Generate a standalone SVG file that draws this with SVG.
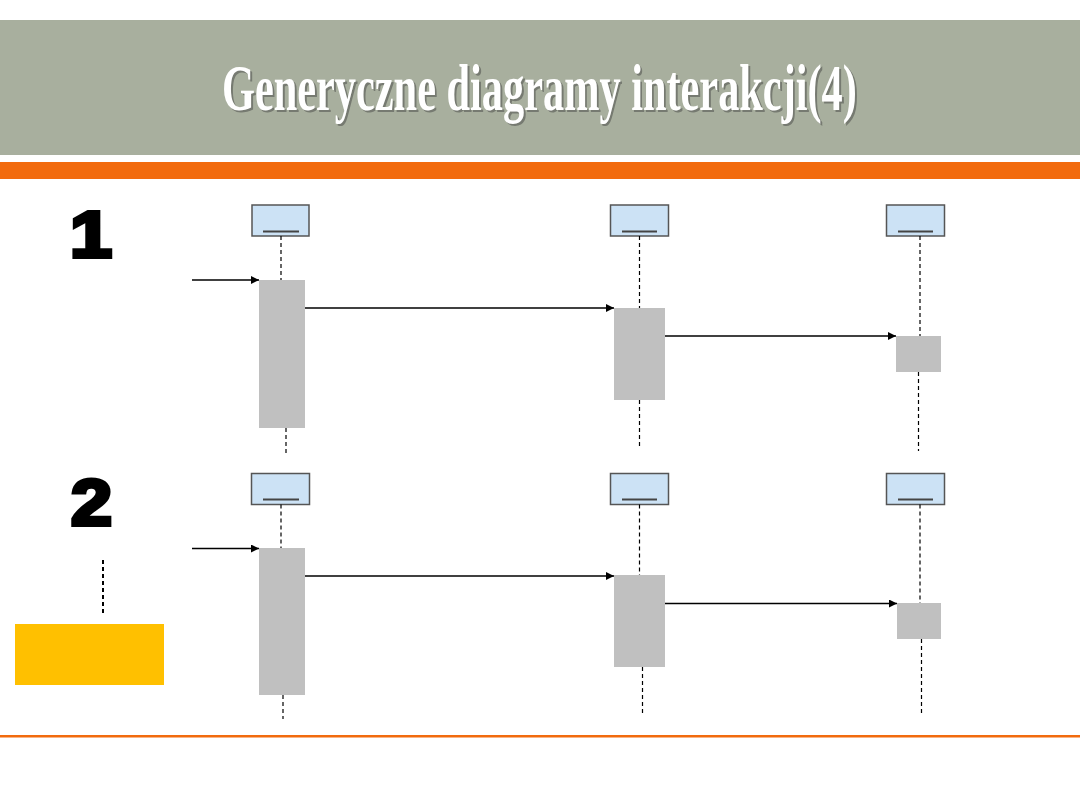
<svg xmlns="http://www.w3.org/2000/svg" width="1080" height="810" viewBox="0 0 1080 810">
  <style>
    .obj { fill: #CCE2F5; stroke: #555; stroke-width: 1.5; }
    .uline { stroke: #444; stroke-width: 2; }
    .life { stroke: #000; stroke-width: 1.2; stroke-dasharray: 4 3; fill: none; }
    .act { fill: #C0C0C0; stroke: none; }
    .msg { stroke: #000; stroke-width: 1.5; fill: none; marker-end: url(#arrow); }
    .num { font-family: "Liberation Sans", Arial, sans-serif; font-weight: bold; font-size: 64px; fill: #000; stroke: #000; stroke-width: 4; stroke-linejoin: miter; }
    .title { font-family: "Liberation Serif", "Times New Roman", serif; font-weight: bold; font-size: 66px; }
  </style>
  <defs>
    <marker id="arrow" viewBox="0 0 10 10" refX="10" refY="5" markerWidth="10" markerHeight="8" markerUnits="userSpaceOnUse" orient="auto">
      <path d="M0,0 L10,5 L0,10 z" fill="#000"/>
    </marker>
  </defs>

  <rect width="1080" height="810" fill="#fff"/>

  <!-- header -->
  <g id="header">
    <rect x="0" y="20" width="1080" height="135" fill="#A8AF9E"/>
    <rect x="0" y="162" width="1080" height="17" fill="#F26B0E"/>
    <g transform="translate(222,0) scale(0.64,1)">
      <text class="title" x="3" y="112" textLength="992" lengthAdjust="spacingAndGlyphs" fill="#3a3a3a" fill-opacity="0.45">Generyczne diagramy interakcji(4)</text>
      <text class="title" x="0" y="110" textLength="992" lengthAdjust="spacingAndGlyphs" fill="#fff">Generyczne diagramy interakcji(4)</text>
    </g>
  </g>

  <!-- section labels -->
  <g id="label-1"><text class="num" x="70" y="257" textLength="42" lengthAdjust="spacingAndGlyphs">1</text></g>
  <g id="label-2"><text class="num" x="71" y="525" textLength="41" lengthAdjust="spacingAndGlyphs">2</text></g>

  <!-- section 1 nodes -->
  <g id="s1-obj1">
    <rect class="obj" x="252" y="205" width="57" height="31"/>
    <line class="uline" x1="263" y1="231.5" x2="299" y2="231.5"/>
    <rect class="act" x="259" y="280" width="46" height="148"/>
  </g>
  <g id="s1-obj2">
    <rect class="obj" x="610.5" y="205" width="58" height="31"/>
    <line class="uline" x1="622" y1="231.5" x2="657" y2="231.5"/>
    <rect class="act" x="614" y="308" width="51" height="92"/>
  </g>
  <g id="s1-obj3">
    <rect class="obj" x="886.5" y="205" width="58" height="31"/>
    <line class="uline" x1="898" y1="231.5" x2="933" y2="231.5"/>
    <rect class="act" x="896" y="336" width="45" height="36"/>
  </g>

  <!-- section 2 nodes -->
  <g id="s2-obj1">
    <rect class="obj" x="251.5" y="473.5" width="58" height="31"/>
    <line class="uline" x1="263" y1="499.5" x2="299" y2="499.5"/>
    <rect class="act" x="259" y="548" width="46" height="147"/>
  </g>
  <g id="s2-obj2">
    <rect class="obj" x="610.5" y="473.5" width="58" height="31"/>
    <line class="uline" x1="622" y1="499.5" x2="657" y2="499.5"/>
    <rect class="act" x="614" y="575" width="51" height="92"/>
  </g>
  <g id="s2-obj3">
    <rect class="obj" x="886.5" y="473.5" width="58" height="31"/>
    <line class="uline" x1="898" y1="499.5" x2="933" y2="499.5"/>
    <rect class="act" x="897" y="603" width="44" height="36"/>
  </g>

  <g id="yellow-note">
    <rect x="15" y="624" width="149" height="61" fill="#FFC000"/>
  </g>

  <!-- connectors -->
  <g id="connectors">
    <line class="life" x1="281" y1="236" x2="281" y2="280"/>
    <line class="life" x1="286" y1="428" x2="286" y2="454"/>
    <line class="life" x1="639.5" y1="236" x2="639.5" y2="308"/>
    <line class="life" x1="639.5" y1="400" x2="639.5" y2="449"/>
    <line class="life" x1="920" y1="236" x2="920" y2="336"/>
    <line class="life" x1="918.5" y1="372" x2="918.5" y2="451"/>
    <line class="life" x1="281" y1="504.5" x2="281" y2="548"/>
    <line class="life" x1="283" y1="695" x2="283" y2="719"/>
    <line class="life" x1="639.5" y1="504.5" x2="639.5" y2="575"/>
    <line class="life" x1="642.5" y1="667" x2="642.5" y2="714"/>
    <line class="life" x1="920" y1="504.5" x2="920" y2="603"/>
    <line class="life" x1="921.5" y1="639" x2="921.5" y2="716"/>
    <line class="msg" x1="192" y1="280" x2="259" y2="280"/>
    <line class="msg" x1="305" y1="308" x2="614" y2="308"/>
    <line class="msg" x1="665" y1="336" x2="896" y2="336"/>
    <line class="msg" x1="192" y1="548.5" x2="259" y2="548.5"/>
    <line class="msg" x1="305" y1="576" x2="614" y2="576"/>
    <line class="msg" x1="665" y1="603.5" x2="897" y2="603.5"/>
    <line x1="103" y1="560" x2="103" y2="615" stroke="#000" stroke-width="2" stroke-dasharray="4 3"/>
  </g>

  <rect x="0" y="735" width="1080" height="2.5" fill="#F26B0E"/>
</svg>
